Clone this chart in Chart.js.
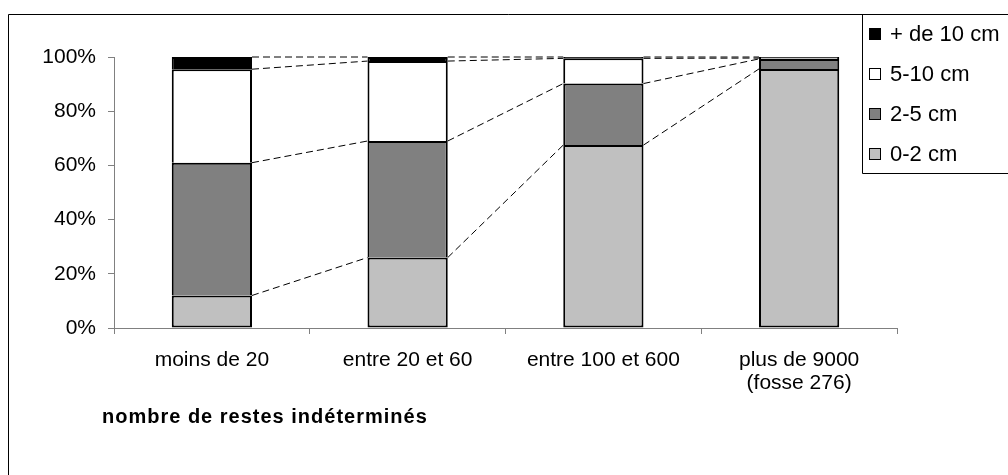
<!DOCTYPE html>
<html lang="fr">
<head>
  <meta charset="UTF-8">
  <title>Restes indéterminés par classe de taille</title>
  <script src="https://cdn.jsdelivr.net/npm/chart.js"></script>
  <style>
    html, body {
      margin: 0;
      padding: 0;
      background-color: #ffffff;
    }
    #wrap {
      width: 1008px;
      height: 475px;
    }
  </style>
</head>
<body>
  <div id="wrap"><canvas id="restesChart" width="1008" height="475"></canvas></div>

  <script>
    // categories (x axis) and size classes
    const categories = [['moins de 20'], ['entre 20 et 60'], ['entre 100 et 600'], ['plus de 9000', '(fosse 276)']];
    const sizeClasses = ['0-2 cm', '2-5 cm', '5-10 cm', '+ de 10 cm'];

    // share of each size class, in %
    const pct0to2 = [12, 26, 67.5, 95.6];
    const pct2to5 = [49, 43, 22.7, 3.7];
    const pct5to10 = [34.5, 29.5, 9.3, 0.3];
    const pctOver10 = [4.5, 1.5, 0.5, 0.4];

    const yTicks = [0, 20, 40, 60, 80, 100];
    const axisTitle = 'nombre de restes indéterminés';

    const fillColors = ['#c0c0c0', '#808080', '#ffffff', '#000000'];
    const FONT = '"Liberation Sans", Arial, sans-serif';

    // dashed "series lines" joining the tops of each segment from bar to bar
    const seriesLines = {
      id: 'seriesLines',
      afterDatasetsDraw(chart) {
        const ctx = chart.ctx;
        ctx.save();
        ctx.strokeStyle = '#000';
        ctx.lineWidth = 1;
        ctx.setLineDash([7, 4]);
        chart.data.datasets.forEach((ds, d) => {
          const bars = chart.getDatasetMeta(d).data;
          for (let i = 0; i < bars.length - 1; i++) {
            const a = bars[i], b = bars[i + 1];
            ctx.beginPath();
            ctx.moveTo(a.x + a.width / 2, a.y);
            ctx.lineTo(b.x - b.width / 2, b.y);
            ctx.stroke();
          }
        });
        ctx.restore();
      }
    };

    // outer frame, boxed legend on the right and the axis title
    const decorations = {
      id: 'decorations',
      afterDraw(chart) {
        const ctx = chart.ctx;
        ctx.save();
        ctx.strokeStyle = '#000';
        ctx.lineWidth = 1;
        ctx.beginPath();
        ctx.moveTo(8.5, 475);
        ctx.lineTo(8.5, 14.5);
        ctx.lineTo(1008, 14.5);
        ctx.stroke();

        // legend box
        ctx.beginPath();
        ctx.moveTo(862.5, 14.5);
        ctx.lineTo(862.5, 173.5);
        ctx.lineTo(1008, 173.5);
        ctx.stroke();

        const rowsY = [34, 74, 114, 154];
        ctx.font = '22px ' + FONT;
        ctx.textBaseline = 'middle';
        ctx.textAlign = 'left';
        const n = chart.data.datasets.length;
        for (let k = 0; k < n; k++) {
          const ds = chart.data.datasets[n - 1 - k];
          const y = rowsY[k];
          ctx.fillStyle = ds.backgroundColor;
          ctx.fillRect(869, y - 6, 12, 12);
          ctx.strokeRect(869.5, y - 5.5, 11, 11);
          ctx.fillStyle = '#000';
          ctx.fillText(ds.label, 890, y + 1);
        }

        // axis title (slightly spaced out, like the original)
        ctx.font = 'bold 20px ' + FONT;
        ctx.letterSpacing = '1px';
        ctx.textBaseline = 'alphabetic';
        ctx.fillText(axisTitle, 102, 423);
        ctx.restore();
      }
    };

    // only the bottom segment gets a bottom edge, so joins stay 2px
    const datasets = [pct0to2, pct2to5, pct5to10, pctOver10].map((values, i) => ({
      label: sizeClasses[i],
      data: values,
      backgroundColor: fillColors[i],
      borderColor: '#000000',
      borderWidth: { top: 2, bottom: i === 0 ? 2 : 0, left: 2, right: 2 },
      borderSkipped: false,
      barPercentage: 0.41,
      categoryPercentage: 1
    }));

    const ctx = document.getElementById('restesChart').getContext('2d');
    new Chart(ctx, {
      type: 'bar',
      data: {
        labels: categories,
        datasets: datasets
      },
      options: {
        responsive: false,
        animation: false,
        devicePixelRatio: 1,
        layout: {
          padding: { top: 57, right: 111, bottom: 0, left: 0 }
        },
        plugins: {
          legend: { display: false },
          tooltip: { enabled: false }
        },
        scales: {
          x: {
            stacked: true,
            grid: {
              offset: true,
              drawOnChartArea: false,
              tickLength: 6,
              color: '#808080'
            },
            border: { color: '#808080' },
            ticks: {
              color: '#000',
              font: { family: FONT, size: 21, lineHeight: 1.1 },
              padding: 15,
              maxRotation: 0,
              autoSkip: false
            },
            afterFit(scale) {
              scale.height = 147;
            }
          },
          y: {
            stacked: true,
            min: yTicks[0],
            max: yTicks[yTicks.length - 1],
            afterBuildTicks(scale) {
              scale.ticks = yTicks.map(v => ({ value: v }));
            },
            grid: {
              drawOnChartArea: false,
              tickLength: 6,
              color: '#808080'
            },
            border: { color: '#808080' },
            ticks: {
              color: '#000',
              font: { family: FONT, size: 21 },
              padding: 12,
              callback: function(value) {
                return value + '%';
              }
            },
            afterFit(scale) {
              scale.width = 114;
            }
          }
        }
      },
      plugins: [seriesLines, decorations]
    });
  </script>
</body>
</html>
